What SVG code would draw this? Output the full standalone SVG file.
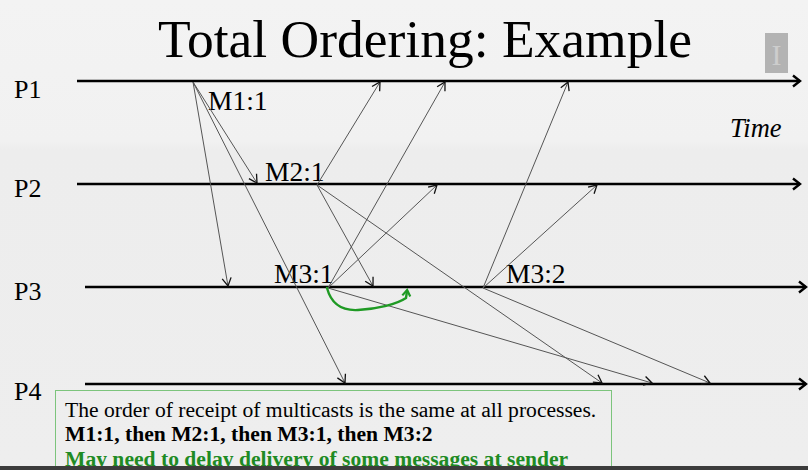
<svg xmlns="http://www.w3.org/2000/svg" width="808" height="470" viewBox="0 0 808 470">
  <defs>
    <linearGradient id="bg" x1="0" y1="0" x2="0" y2="1">
      <stop offset="0" stop-color="#f3f3f3"/>
      <stop offset="0.3" stop-color="#f1f1f1"/>
      <stop offset="0.32" stop-color="#ededed"/>
      <stop offset="1" stop-color="#eeeeee"/>
    </linearGradient>
    <marker id="tl-head" markerUnits="userSpaceOnUse" markerWidth="14" markerHeight="14" refX="10" refY="7" orient="auto">
      <path d="M3,1.5 L10,7 L3,12.5" fill="none" stroke="#000" stroke-width="2.4"/>
    </marker>
    <marker id="msg-head" markerUnits="userSpaceOnUse" markerWidth="12" markerHeight="12" refX="9" refY="6" orient="auto">
      <path d="M1,1.5 L9,6 L1,10.5" fill="none" stroke="#111" stroke-width="1.3"/>
    </marker>
    <marker id="green-head" markerUnits="userSpaceOnUse" markerWidth="12" markerHeight="12" refX="6" refY="6" orient="auto">
      <path d="M1,2 L7,6 L1,10" fill="none" stroke="#1f9a24" stroke-width="2.2"/>
    </marker>
  </defs>
  <style>
    .serif { font-family: "Liberation Serif", "Times New Roman", serif; fill: #000; }
    .title { font-size: 53.5px; }
    .proc { font-size: 26px; }
    .mlabel { font-size: 27.5px; }
    .timeline { stroke: #000; stroke-width: 2.6; fill: none; marker-end: url(#tl-head); }
    .msg { stroke: #555; stroke-width: 1; fill: none; marker-end: url(#msg-head); }
    .note { font-size: 21.6px; }
  </style>

  <rect x="0" y="0" width="808" height="470" fill="url(#bg)"/>

  <!-- title -->
  <text class="serif title" x="425" y="57" text-anchor="middle">Total Ordering: Example</text>

  <!-- small logo in the corner -->
  <g id="logo">
    <rect x="765" y="33" width="23" height="40" fill="#b3b3b3"/>
    <text x="776.5" y="65" text-anchor="middle" font-family="Liberation Serif, serif" font-size="30" fill="#cdcdcd">I</text>
  </g>

  <!-- process time lines -->
  <g id="P1">
    <line class="timeline" x1="77" y1="81" x2="800" y2="81"/>
    <text class="serif proc" x="14" y="98">P1</text>
  </g>
  <g id="P2">
    <line class="timeline" x1="77" y1="184" x2="800" y2="184"/>
    <text class="serif proc" x="14" y="197">P2</text>
  </g>
  <g id="P3">
    <line class="timeline" x1="85" y1="287" x2="806" y2="287"/>
    <text class="serif proc" x="14" y="300">P3</text>
  </g>
  <g id="P4">
    <line class="timeline" x1="85" y1="384" x2="806" y2="384"/>
    <text class="serif proc" x="14" y="400">P4</text>
  </g>

  <text class="serif" x="730" y="137" font-size="26.5" font-style="italic">Time</text>

  <!-- multicast send events -->
  <g id="M1-1"><text class="serif mlabel" x="208" y="110">M1:1</text></g>
  <g id="M2-1"><text class="serif mlabel" x="265" y="181">M2:1</text></g>
  <g id="M3-1"><text class="serif mlabel" x="274" y="283">M3:1</text></g>
  <g id="M3-2"><text class="serif mlabel" x="506" y="283">M3:2</text></g>

  <!-- message deliveries -->
  <g id="connectors">
    <!-- M1:1 from P1 -->
    <line class="msg" x1="193" y1="82" x2="257" y2="183"/>
    <line class="msg" x1="193" y1="82" x2="228" y2="286"/>
    <line class="msg" x1="193" y1="82" x2="345" y2="383"/>
    <!-- M2:1 from P2 -->
    <line class="msg" x1="317" y1="185" x2="380" y2="82"/>
    <line class="msg" x1="317" y1="185" x2="373" y2="286"/>
    <line class="msg" x1="317" y1="185" x2="602" y2="383"/>
    <!-- M3:1 from P3 -->
    <line class="msg" x1="328" y1="288" x2="445" y2="82"/>
    <line class="msg" x1="328" y1="288" x2="437" y2="185"/>
    <line class="msg" x1="328" y1="288" x2="652" y2="383"/>
    <!-- M3:2 from P3 -->
    <line class="msg" x1="483" y1="288" x2="568" y2="82"/>
    <line class="msg" x1="483" y1="288" x2="597" y2="185"/>
    <line class="msg" x1="483" y1="288" x2="710" y2="383"/>
    <!-- delayed local delivery of M3:1 -->
    <path d="M327,288 C331,303 341,311 358,310 C378,309 397,304 406,298 L407,291" fill="none" stroke="#1f9a24" stroke-width="2.4" stroke-linecap="round" marker-end="url(#green-head)"/>
  </g>

  <!-- note box -->
  <g id="note">
    <rect x="55.5" y="390.5" width="556" height="90" fill="none" stroke="#7cc47c" stroke-width="1"/>
    <text class="serif note" x="65" y="417">The order of receipt of multicasts is the same at all processes.</text>
    <text class="serif note" x="65" y="441" font-weight="bold">M1:1, then M2:1, then M3:1, then M3:2</text>
    <text class="serif note" x="65" y="466" font-weight="bold" style="fill:#1f8b24">May need to delay delivery of some messages at sender</text>
  </g>

  <rect x="0" y="466" width="808" height="4" fill="#3c3c3c"/>
</svg>
